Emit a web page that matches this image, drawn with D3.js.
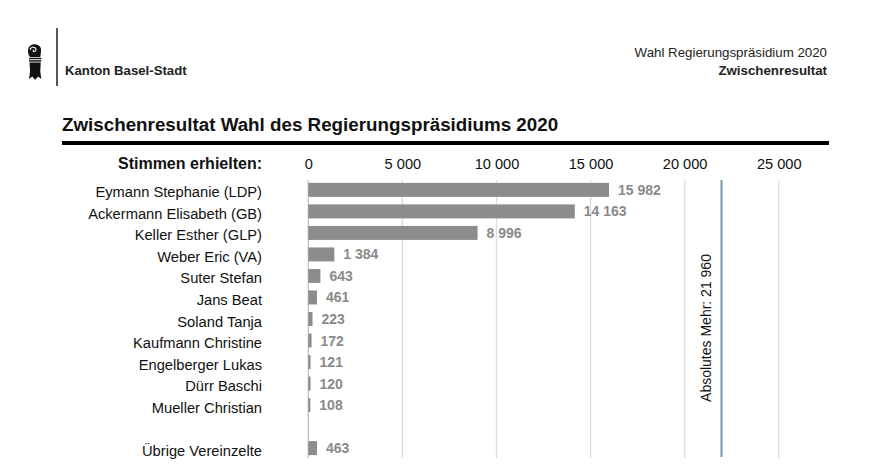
<!DOCTYPE html>
<html>
<head>
<meta charset="utf-8">
<script src="https://cdn.jsdelivr.net/npm/d3@7"></script>
<style>
  body { margin: 0; background: #fff; }
  svg { font-family: "Liberation Sans", Arial, sans-serif; }
</style>
</head>
<body>
<svg id="chart" width="886" height="475"></svg>
<script>
// Kandidaten und Stimmen
var candidates = [
  "Eymann Stephanie (LDP)", "Ackermann Elisabeth (GB)", "Keller Esther (GLP)",
  "Weber Eric (VA)", "Suter Stefan", "Jans Beat", "Soland Tanja",
  "Kaufmann Christine", "Engelberger Lukas", "Dürr Baschi", "Mueller Christian",
  "", "Übrige Vereinzelte"
];
var votes = [15982, 14163, 8996, 1384, 643, 461, 223, 172, 121, 120, 108, null, 463];
var tickValues = [0, 5000, 10000, 15000, 20000, 25000];
var absolutesMehr = 21960;

var svg = d3.select("#chart");
var fmt = function(v) { return d3.format(",")(v).replace(/,/g, " "); };

// KOPFZEILE (Baslerstab)
var logo = svg.append("g").attr("transform", "translate(27.5,44) scale(1.02,0.97)");
logo.append("path")
  .attr("d", "M2.5,13.5 C0,10 -0.5,4 3,1.5 C6,-0.8 11.5,0 13,4 C13.6,6 13.2,9 12.5,13.5 Z")
  .attr("fill", "#111");
logo.append("path")
  .attr("d", "M2.5,6 C3,3 6.5,2.5 8,4.5 C9,6 7.5,8.5 5.8,7.5 C5.2,7 5.6,6.2 6.2,6.4")
  .attr("fill", "none").attr("stroke", "#fff").attr("stroke-width", 1.1);
logo.append("rect").attr("x", 1.5).attr("y", 14.2).attr("width", 12).attr("height", 1.5).attr("fill", "#111");
logo.append("rect").attr("x", 1.5).attr("y", 16.7).attr("width", 12).attr("height", 1.5).attr("fill", "#111");
logo.append("path")
  .attr("d", "M2,19.2 L13,19.2 L12.5,28 L13.5,36 L10.3,33.5 L7.5,37 L4.7,33.5 L1.5,36 L2.5,28 Z")
  .attr("fill", "#111");

svg.append("line").attr("x1", 57).attr("x2", 57).attr("y1", 28).attr("y2", 86)
  .attr("stroke", "#222").attr("stroke-width", 1.5);
svg.append("text").attr("x", 65).attr("y", 75).attr("font-size", 13.2).attr("font-weight", "bold")
  .attr("fill", "#222").text("Kanton Basel-Stadt");

svg.append("text").attr("x", 827).attr("y", 57).attr("text-anchor", "end").attr("font-size", 13.3)
  .attr("fill", "#222").text("Wahl Regierungspräsidium 2020");
svg.append("text").attr("x", 827).attr("y", 75).attr("text-anchor", "end").attr("font-size", 13.3)
  .attr("font-weight", "bold").attr("fill", "#222").text("Zwischenresultat");

svg.append("text").attr("x", 62).attr("y", 131).attr("font-size", 18.8).attr("font-weight", "bold")
  .attr("fill", "#111").text("Zwischenresultat Wahl des Regierungspräsidiums 2020");
svg.append("rect").attr("x", 62).attr("y", 141).attr("width", 767).attr("height", 4).attr("fill", "#000");

// SKALEN
var x = d3.scaleLinear().domain([0, 25000]).range([308.3, 778.7]);
var y = d3.scaleBand().domain(d3.range(candidates.length)).range([179, 459]).paddingInner(0.35).paddingOuter(0.18);

// GITTERLINIEN
svg.append("g").selectAll("line").data(tickValues).join("line")
  .attr("x1", d => x(d)).attr("x2", d => x(d))
  .attr("y1", 180).attr("y2", 458)
  .attr("stroke", d => d === 0 ? "#b9c4c9" : "#d3dfe4").attr("stroke-width", 1.3);

// ACHSE OBEN
var axis = svg.append("g").attr("transform", "translate(0,169)")
  .call(d3.axisTop(x).tickValues(tickValues).tickFormat(fmt).tickSize(0).tickPadding(0));
axis.select(".domain").remove();
axis.selectAll("text").attr("font-size", 14.6).attr("fill", "#111")
  .attr("font-family", "'Liberation Sans', Arial, sans-serif");

svg.append("text").attr("x", 262).attr("y", 169).attr("text-anchor", "end")
  .attr("font-size", 16).attr("font-weight", "bold").attr("fill", "#111").text("Stimmen erhielten:");

// ABSOLUTES MEHR
svg.append("line").attr("x1", x(absolutesMehr)).attr("x2", x(absolutesMehr))
  .attr("y1", 180).attr("y2", 457).attr("stroke", "#7d9fae").attr("stroke-width", 2.2);
svg.append("text")
  .attr("transform", "translate(" + (x(absolutesMehr) - 10) + ",328) rotate(-90)")
  .attr("text-anchor", "middle").attr("font-size", 14).attr("fill", "#111")
  .text("Absolutes Mehr: " + fmt(absolutesMehr));

// BALKEN
var rows = candidates.map((c, i) => ({ name: c, value: votes[i], i: i }));
svg.append("g").selectAll("rect").data(rows.filter(d => d.value != null)).join("rect")
  .attr("x", x(0)).attr("y", d => y(d.i))
  .attr("width", d => Math.max(1.5, x(d.value) - x(0)))
  .attr("height", y.bandwidth()).attr("fill", "#8c8c8c");

svg.append("g").selectAll("text").data(rows.filter(d => d.value != null)).join("text")
  .attr("x", d => Math.max(x(0) + 1.5, x(d.value)) + 9)
  .attr("y", d => y(d.i) + y.bandwidth() / 2 + 5)
  .attr("font-size", 14).attr("font-weight", "bold").attr("fill", "#8a8a8a")
  .text(d => fmt(d.value));

// NAMEN
svg.append("g").selectAll("text").data(rows.filter(d => d.name)).join("text")
  .attr("x", 262).attr("y", d => y(d.i) + y.bandwidth() / 2 + 7.5)
  .attr("text-anchor", "end").attr("font-size", 14.7).attr("fill", "#111")
  .text(d => d.name);
</script>
</body>
</html>
